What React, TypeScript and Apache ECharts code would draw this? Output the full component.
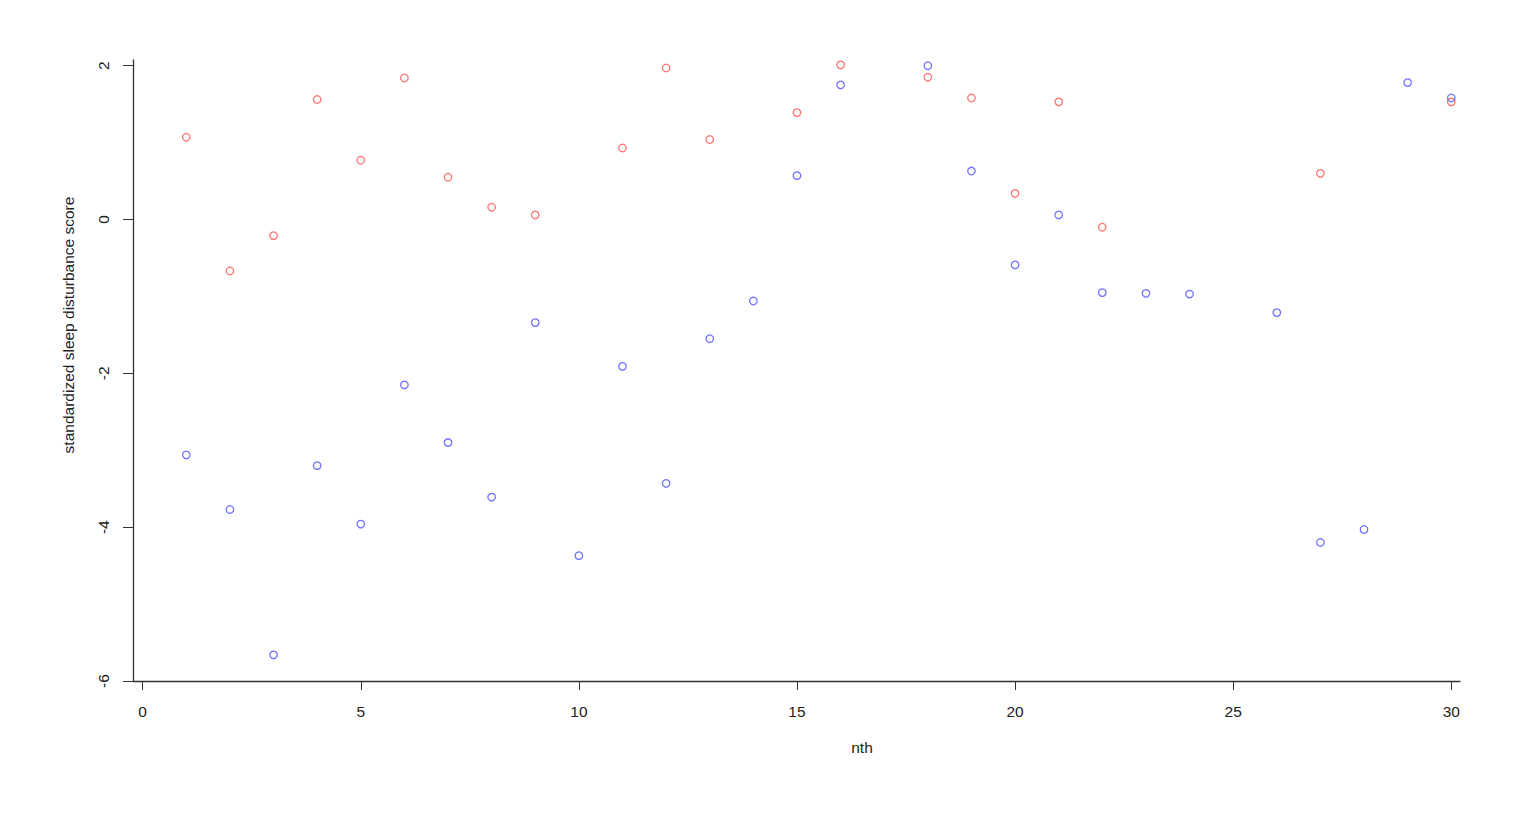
import React, { useEffect, useRef } from "react";
import * as echarts from "echarts";

// nth index for each observation
const redX = [1, 2, 3, 4, 5, 6, 7, 8, 9, 11, 12, 13, 15, 16, 18, 19, 20, 21, 22, 27, 30];
const redY = [1.07, -0.67, -0.21, 1.56, 0.77, 1.84, 0.55, 0.16, 0.06, 0.93, 1.97, 1.04, 1.39, 2.01, 1.85, 1.58, 0.34, 1.53, -0.1, 0.6, 1.53];

const blueX = [1, 2, 3, 4, 5, 6, 7, 8, 9, 10, 11, 12, 13, 14, 15, 16, 18, 19, 20, 21, 22, 23, 24, 26, 27, 28, 29, 30];
const blueY = [-3.06, -3.77, -5.66, -3.2, -3.96, -2.15, -2.9, -3.61, -1.34, -4.37, -1.91, -3.43, -1.55, -1.06, 0.57, 1.75, 2.0, 0.63, -0.59, 0.06, -0.95, -0.96, -0.97, -1.21, -4.2, -4.03, 1.78, 1.58];

const xTicks = [0, 5, 10, 15, 20, 25, 30];
const yTicks = [-6, -4, -2, 0, 2];

const xTitle = "nth";
const yTitle = "standardized sleep disturbance score";

const FONT = "Liberation Sans, Arial, Helvetica, sans-serif";

export default function App() {
  const ref = useRef<HTMLDivElement>(null);
  useEffect(() => {
    if (!ref.current) return;
    const chart = echarts.init(ref.current, null, { renderer: "svg" });
    const pairs = (xs: number[], ys: number[]) => xs.map((x, i) => [x, ys[i]]);
    chart.setOption({
      animation: false,
      backgroundColor: "#ffffff",
      textStyle: { fontFamily: FONT },
      grid: { left: 133, right: 60, top: 60, bottom: 134 },
      xAxis: {
        type: "value",
        min: -0.222,
        max: 30.2,
        splitLine: { show: false },
        axisLine: { show: true, onZero: false, lineStyle: { color: "#333333", width: 1.3 } },
        axisTick: { show: true, customValues: xTicks, length: 9, lineStyle: { color: "#333333" } },
        axisLabel: { customValues: xTicks, margin: 22, fontSize: 15.5, color: "#222222", fontFamily: FONT },
      },
      yAxis: {
        type: "value",
        min: -6,
        max: 2.074,
        splitLine: { show: false },
        axisLine: { show: true, onZero: false, lineStyle: { color: "#333333", width: 1.3 } },
        axisTick: { show: true, customValues: yTicks, length: 10, lineStyle: { color: "#333333" } },
        axisLabel: {
          customValues: yTicks,
          rotate: 90,
          margin: 22,
          fontSize: 15.5,
          color: "#222222",
          fontFamily: FONT,
        },
      },
      graphic: [
        {
          type: "text",
          x: 862,
          y: 747,
          style: { text: xTitle, fontSize: 15.5, fill: "#222222", fontFamily: FONT, align: "center", verticalAlign: "middle" },
        },
        {
          type: "text",
          x: 68,
          y: 325,
          rotation: Math.PI / 2,
          style: { text: yTitle, fontSize: 15.5, fill: "#222222", fontFamily: FONT, align: "center", verticalAlign: "middle" },
        },
      ],
      series: [
        {
          type: "scatter",
          data: pairs(redX, redY),
          symbol: "circle",
          symbolSize: 7.5,
          itemStyle: { color: "rgba(0,0,0,0)", borderColor: "#ff5050", borderWidth: 1.3 },
        },
        {
          type: "scatter",
          data: pairs(blueX, blueY),
          symbol: "circle",
          symbolSize: 7.5,
          itemStyle: { color: "rgba(0,0,0,0)", borderColor: "#5050ff", borderWidth: 1.3 },
        },
      ],
    });
    return () => chart.dispose();
  }, []);
  return <div ref={ref} style={{ position: "absolute", left: 0, top: 0, width: 1520, height: 815 }} />;
}
